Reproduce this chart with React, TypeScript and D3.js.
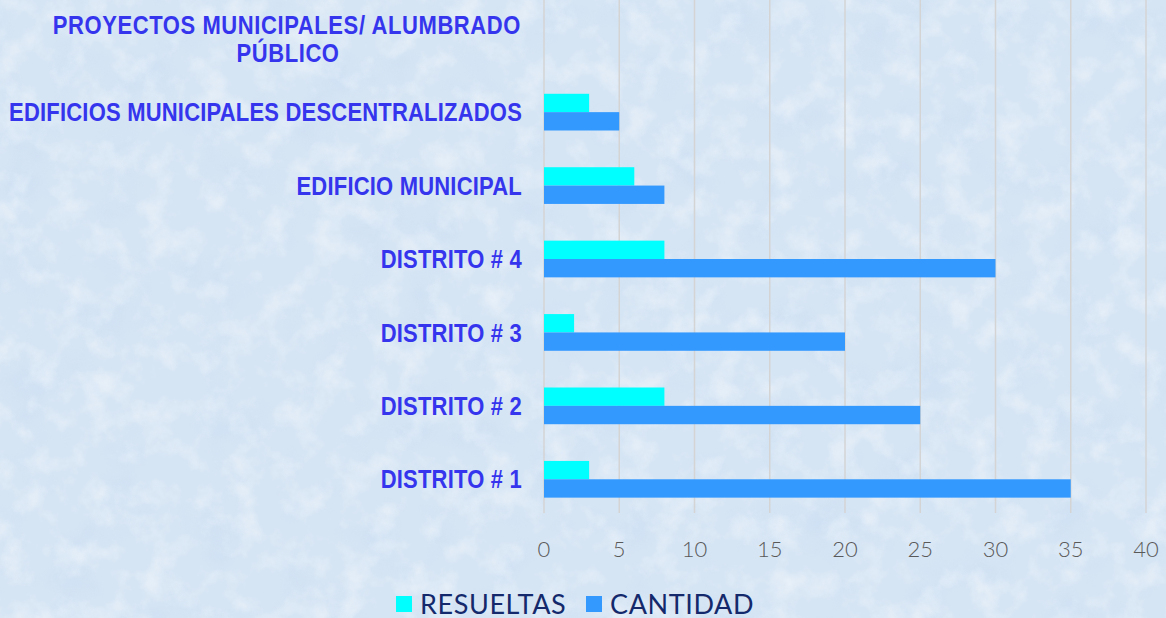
import React from "react";
import * as d3 from "d3";

const categories = [
  "DISTRITO # 1",
  "DISTRITO # 2",
  "DISTRITO # 3",
  "DISTRITO # 4",
  "EDIFICIO MUNICIPAL",
  "EDIFICIOS MUNICIPALES DESCENTRALIZADOS",
  "PROYECTOS MUNICIPALES/ ALUMBRADO|PÚBLICO",
];
const resueltas = [3, 8, 2, 8, 6, 3, 0];
const cantidad = [35, 25, 20, 30, 8, 5, 0];
const seriesNames = ["RESUELTAS", "CANTIDAD"];
const seriesColors = ["#00ffff", "#3399ff"];
const xTicks = [0, 5, 10, 15, 20, 25, 30, 35, 40];

const W = 1166;
const H = 618;
const plot = { left: 544, right: 1146, top: 2, bottom: 516 };

export default function App() {
  const x = d3.scaleLinear().domain([0, 40]).range([plot.left, plot.right]);
  // bottom-to-top order
  const y = d3
    .scaleBand<string>()
    .domain(categories)
    .range([plot.bottom, plot.top])
    .paddingInner(0.5)
    .paddingOuter(0.25);
  const inner = d3
    .scaleBand<string>()
    .domain(seriesNames)
    .range([0, y.bandwidth()]);
  const values = [resueltas, cantidad];
  const labelFont = "'Liberation Sans', Arial, sans-serif";

  return (
    <svg
      width={W}
      height={H}
      style={{ position: "absolute", left: 0, top: 0, display: "block" }}
    >
      <defs>
        <filter id="tex" x="0" y="0" width="100%" height="100%">
          <feTurbulence
            type="fractalNoise"
            baseFrequency="0.035"
            numOctaves={4}
            seed={7}
            result="n"
          />
          <feColorMatrix
            in="n"
            type="matrix"
            values="0 0 0 0 1  0 0 0 0 1  0 0 0 0 1  1.6 0 0 0 -0.75"
          />
        </filter>
        <filter id="tex2" x="0" y="0" width="100%" height="100%">
          <feTurbulence
            type="fractalNoise"
            baseFrequency="0.02"
            numOctaves={3}
            seed={3}
            result="n"
          />
          <feColorMatrix
            in="n"
            type="matrix"
            values="0 0 0 0 0.55  0 0 0 0 0.7  0 0 0 0 0.9  0 1.8 0 0 -0.95"
          />
        </filter>
      </defs>
      <rect x={0} y={0} width={W} height={H} fill="#d6e5f4" />
      <rect x={0} y={0} width={W} height={H} filter="url(#tex2)" opacity={0.5} />
      <rect x={0} y={0} width={W} height={H} filter="url(#tex)" opacity={0.6} />

      {/* gridlines */}
      {xTicks.map((t) => (
        <line
          key={"g" + t}
          x1={x(t)}
          x2={x(t)}
          y1={0}
          y2={513}
          stroke="#d4d4d4"
          strokeWidth={1.5}
        />
      ))}

      {/* bars */}
      {categories.map((c, i) => (
        <g key={c} transform={`translate(0,${y(c)})`}>
          {seriesNames.map((s, j) =>
            values[j][i] > 0 ? (
              <rect
                key={s}
                x={x(0)}
                y={inner(s)}
                width={x(values[j][i]) - x(0)}
                height={inner.bandwidth()}
                fill={seriesColors[j]}
              />
            ) : null
          )}
        </g>
      ))}

      {/* category labels */}
      {categories.map((c) => {
        const lines = c.split("|");
        const cy = (y(c) as number) + y.bandwidth() / 2;
        const lh = 28;
        return lines.map((ln, k) => {
          const ly = cy + (k - (lines.length - 1) / 2) * lh;
          const multi = lines.length > 1;
          const tx = multi ? (k === 0 ? 521 : 288) : 522;
          return (
            <text
              key={c + k}
              transform={`translate(${tx},${ly}) scale(1,1.18)`}
              textAnchor={multi && k > 0 ? "middle" : "end"}
              dominantBaseline="central"
              fontFamily={labelFont}
              fontWeight="bold"
              fontSize={22}
              letterSpacing={multi ? 0.6 : 0.2}
              fill="#3535ee"
            >
              {ln}
            </text>
          );
        });
      })}

      {/* x tick labels */}
      {xTicks.map((t) => (
        <text
          key={"t" + t}
          x={x(t)}
          y={548}
          textAnchor="middle"
          dominantBaseline="central"
          fontFamily="Lato, 'Noto Sans', sans-serif"
          fontWeight={300}
          fontSize={22}
          fill="#595959"
        >
          {t}
        </text>
      ))}

      {/* legend */}
      {seriesNames.map((s, j) => {
        const sx = j === 0 ? 396 : 586;
        return (
          <g key={"l" + s}>
            <rect x={sx} y={596} width={16} height={16} fill={seriesColors[j]} />
            <text
              x={sx + 24}
              y={603}
              dominantBaseline="central"
              fontFamily="Lato, 'Noto Sans', sans-serif"
              fontWeight={400}
              fontSize={27}
              letterSpacing={0.6}
              fill="#14296b"
            >
              {s}
            </text>
          </g>
        );
      })}
    </svg>
  );
}
